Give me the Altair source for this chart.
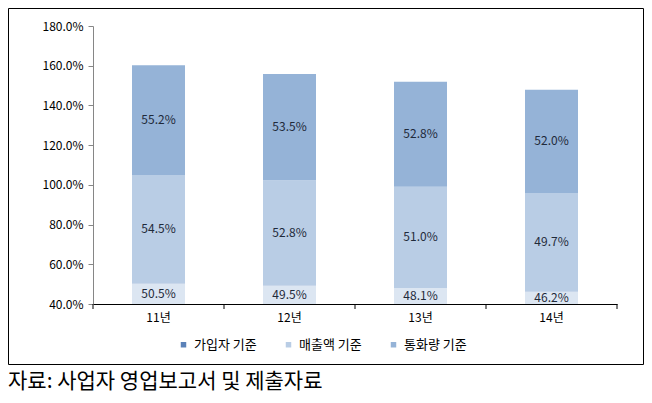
import altair as alt
import pandas as pd

years = ["11년", "12년", "13년", "14년"]
series = ["가입자 기준", "매출액 기준", "통화량 기준"]
subscriber = [50.5, 49.5, 48.1, 46.2]
revenue = [54.5, 52.8, 51.0, 49.7]
traffic = [55.2, 53.5, 52.8, 52.0]
y_ticks = [40, 60, 80, 100, 120, 140, 160, 180]
legend_colors = ["#5b82b8", "#b9cde5", "#95b3d7"]
bottom_fill = "#dce6f2"
footnote = "자료: 사업자 영업보고서 및 제출자료"

AXIS_MIN, AXIS_MAX = 40, 180
W, H = 524, 278
FONT = "Noto Sans CJK KR"

rows = []
for i, yr in enumerate(years):
    base = 0.0
    for k, (s, vals) in enumerate(zip(series, [subscriber, revenue, traffic])):
        v = vals[i]
        lo, hi = base, base + v
        mid = (max(lo, AXIS_MIN) + hi) / 2
        rows.append(dict(year=yr, series=s, order=k, value=v, lo=lo, hi=hi,
                         mid=mid, label=f"{v:.1f}%"))
        base = hi
df = pd.DataFrame(rows)
df_years = pd.DataFrame({"year": years})

x_scale = alt.Scale(paddingInner=0, paddingOuter=0)
x_axis = alt.Axis(title=None, ticks=False,
                  domainColor="#000000", labelAngle=0,
                  labelFontSize=12, labelColor="#000000",
                  labelFont=FONT, labelPadding=8)
y_scale = alt.Scale(domain=[AXIS_MIN, AXIS_MAX], nice=False, zero=False)
y_axis = alt.Axis(values=y_ticks, title=None, grid=False,
                  labelExpr="format(datum.value, '.1f') + '%'",
                  labelOverlap=False,
                  tickSize=5, tickColor="#868686",
                  domainColor="#868686", labelFontSize=12,
                  labelColor="#000000", labelFont=FONT,
                  labelPadding=5)

def X(**kw):
    return alt.X("year:N", sort=years, scale=x_scale, axis=x_axis, **kw)

base = alt.Chart(df)

bars = base.mark_bar(size=53, clip=True).encode(
    x=X(), y=alt.Y("lo:Q", scale=y_scale, axis=y_axis), y2="hi:Q",
    color=alt.Color("series:N", scale=alt.Scale(domain=series, range=legend_colors),
                    legend=alt.Legend(title=None, orient="none", direction="horizontal",
                                      legendX=84, legendY=312, symbolType="square",
                                      symbolSize=30, symbolStrokeWidth=0,
                                      labelFontSize=13, labelFont=FONT,
                                      labelColor="#000000", columnPadding=25,
                                      labelOffset=4, padding=0)),
    order="order:Q",
)

bottom = base.transform_filter(alt.datum.order == 0).mark_bar(
    size=53, clip=True, color=bottom_fill).encode(
    x=X(), y=alt.Y("lo:Q", scale=y_scale, axis=y_axis), y2="hi:Q")

labels = base.mark_text(fontSize=12, font=FONT, color="#1f2a3a").encode(
    x=X(), y=alt.Y("mid:Q", scale=y_scale, axis=y_axis),
    text="label:N")

x_ticks = alt.Chart(df_years).mark_rule(color="#000000").encode(
    x=X(bandPosition=0),
    y=alt.value(H), y2=alt.value(H + 5))

end_tick = alt.Chart(pd.DataFrame({"t": [0]})).mark_rule(color="#000000").encode(
    x=alt.value(W), y=alt.value(H), y2=alt.value(H + 5))

border = alt.Chart(pd.DataFrame({"t": [0]})).mark_rect(
    fill=None, stroke="#000000", strokeWidth=1).encode(
    x=alt.value(-84.5), x2=alt.value(550.5), y=alt.value(-17.5), y2=alt.value(338.5))

note = alt.Chart(pd.DataFrame({"text": [footnote]})).mark_text(
    align="left", baseline="middle", fontSize=21, font=FONT, color="#000000").encode(
    x=alt.value(-85), y=alt.value(356), text="text:N")

chart = alt.layer(border, bars, bottom, labels, x_ticks, end_tick, note).properties(
    width=W, height=H,
    autosize=alt.AutoSizeParams(type="none"),
    padding={"left": 85, "top": 18, "right": 27, "bottom": 90},
).configure_view(stroke=None).configure_axis(labelOverlap=False)

chart.save("out.html", embed_options={"renderer": "svg", "actions": False})
